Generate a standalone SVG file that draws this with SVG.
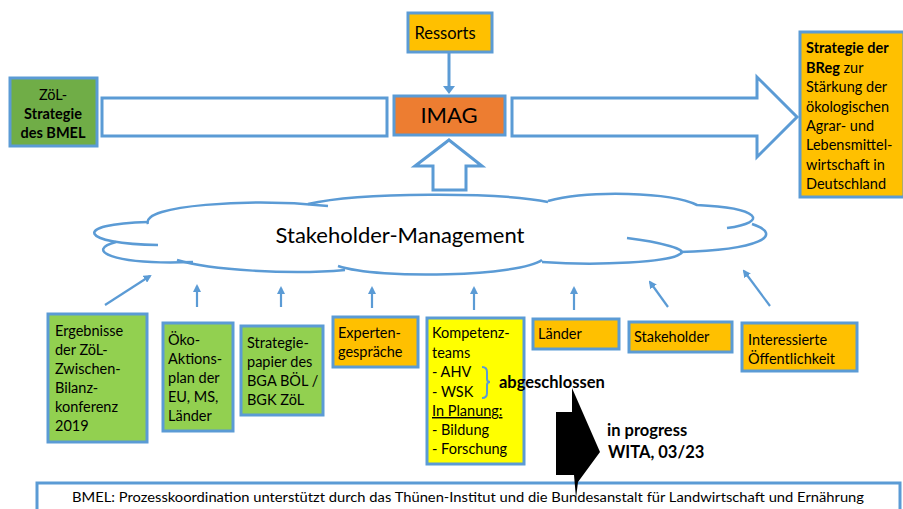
<svg xmlns="http://www.w3.org/2000/svg" width="903" height="509" viewBox="0 0 903 509">
<style>
text{font-family:Lato,"Noto Sans","Liberation Sans",sans-serif;fill:#000}
.bx{stroke:#5B9BD5;stroke-width:3}
.t{font-size:14.5px}
.b{font-weight:bold}
.lb{font-size:16.5px;font-weight:bold}
.ar{stroke:#5B9BD5;stroke-width:2.2;fill:none}
.cl{stroke:#5B9BD5;stroke-width:2.5;fill:none}
</style>
<defs>
<marker id="ah" markerWidth="8" markerHeight="8" refX="6" refY="4" orient="auto" markerUnits="userSpaceOnUse">
<path d="M0,0 L8,4 L0,8 Z" fill="#5B9BD5"/>
</marker>
</defs>
<rect width="903" height="509" fill="#fff"/>

<g id="cloud">
<path d="M148,222 C140,205 250,198 310,204 C360,192 500,192 548,201 C590,190 670,192 697,205 C760,208 770,222 752,224 C785,235 760,250 680,252 C690,262 600,268 542,262 C510,278 380,282 338,267 C290,275 210,270 177,261 C110,264 85,250 115,243 C70,238 80,222 148,222 Z" fill="#fff" stroke="none"/>
<path class="cl" d="M148,224 C140,205 250,198 328,206"/>
<path class="cl" d="M308,204 C360,192 500,192 548,202"/>
<path class="cl" d="M548,201 C590,190 670,192 697,205 C760,208 770,222 727,228"/>
<path class="cl" d="M752,224 C785,235 760,250 680,252"/>
<path class="cl" d="M627,238 C660,242 690,250 680,254 C670,262 600,266 542,262"/>
<path class="cl" d="M542,260 C520,276 380,280 338,266"/>
<path class="cl" d="M345,270 C290,275 210,270 177,260"/>
<path class="cl" d="M193,262 C110,265 85,250 116,242"/>
<path class="cl" d="M148,222 C70,224 80,244 158,245"/>
<text x="400" y="243" font-size="22" text-anchor="middle">Stakeholder-Management</text>
</g>

<g id="connectors">
<path d="M102,98 H387 V136 H102 Z" class="bx" fill="#fff"/>
<path d="M512,98 H757 V77 L797,117 L757,157 V136 H512 Z" class="bx" fill="#fff"/>
<path d="M449,140 L482,166 H466 V190 H433 V166 H415 Z" class="bx" fill="#fff"/>
<line x1="449" y1="52" x2="449" y2="87" stroke="#5B9BD5" stroke-width="3"/>
<path d="M443,86 L449,94 L455,86 Z" fill="#5B9BD5"/>
<line class="ar" x1="105" y1="305" x2="150" y2="276" marker-end="url(#ah)"/>
<line class="ar" x1="197" y1="307" x2="197" y2="286" marker-end="url(#ah)"/>
<line class="ar" x1="281" y1="307" x2="281" y2="288" marker-end="url(#ah)"/>
<line class="ar" x1="372" y1="308" x2="372" y2="288" marker-end="url(#ah)"/>
<line class="ar" x1="474" y1="310" x2="474" y2="288" marker-end="url(#ah)"/>
<line class="ar" x1="574" y1="310" x2="574" y2="288" marker-end="url(#ah)"/>
<line class="ar" x1="668" y1="307" x2="650" y2="282" marker-end="url(#ah)"/>
<line class="ar" x1="770" y1="306" x2="744" y2="271" marker-end="url(#ah)"/>
</g>

<g id="ressorts">
<rect class="bx" x="408" y="13" width="84" height="39" fill="#FFC000"/>
<text x="445" y="39" font-size="16.5" text-anchor="middle">Ressorts</text>
</g>

<g id="imag">
<rect class="bx" x="394" y="96" width="111" height="39" fill="#ED7D31"/>
<text x="449" y="123" font-size="22" text-anchor="middle">IMAG</text>
</g>

<g id="zoel">
<rect class="bx" x="10" y="78" width="87" height="68" fill="#70AD47"/>
<text class="t" x="53" y="100" text-anchor="middle">ZöL-</text>
<text class="t b" x="53" y="119" text-anchor="middle">Strategie</text>
<text class="t b" x="53" y="138" text-anchor="middle">des BMEL</text>
</g>

<g id="breg">
<rect class="bx" x="800" y="32" width="104" height="165" fill="#FFC000"/>
<text class="t" x="806" y="53"><tspan class="b">Strategie der</tspan></text>
<text class="t" x="806" y="73"><tspan class="b">BReg</tspan> zur</text>
<text class="t" x="806" y="92">Stärkung der</text>
<text class="t" x="806" y="112">ökologischen</text>
<text class="t" x="806" y="131">Agrar- und</text>
<text class="t" x="806" y="150">Lebensmittel-</text>
<text class="t" x="806" y="170">wirtschaft in</text>
<text class="t" x="806" y="189">Deutschland</text>
</g>

<g id="ergebnisse">
<rect class="bx" x="48" y="314" width="99" height="128" fill="#92D050"/>
<text class="t" x="55" y="336">Ergebnisse</text>
<text class="t" x="55" y="355">der ZöL-</text>
<text class="t" x="55" y="374">Zwischen-</text>
<text class="t" x="55" y="393">Bilanz-</text>
<text class="t" x="55" y="412">konferenz</text>
<text class="t" x="55" y="431">2019</text>
</g>

<g id="oeko">
<rect class="bx" x="163" y="323" width="70" height="108" fill="#92D050"/>
<text class="t" x="168" y="345">Öko-</text>
<text class="t" x="168" y="364">Aktions-</text>
<text class="t" x="168" y="383">plan der</text>
<text class="t" x="168" y="402">EU, MS,</text>
<text class="t" x="168" y="421">Länder</text>
</g>

<g id="strategiepapier">
<rect class="bx" x="241" y="326" width="82" height="89" fill="#92D050"/>
<text class="t" x="247" y="348">Strategie-</text>
<text class="t" x="247" y="367">papier des</text>
<text class="t" x="247" y="386">BGA BÖL /</text>
<text class="t" x="247" y="405">BGK ZöL</text>
</g>

<g id="experten">
<rect class="bx" x="333" y="317" width="85" height="50" fill="#FFC000"/>
<text class="t" x="338" y="338">Experten-</text>
<text class="t" x="338" y="357">gespräche</text>
</g>

<g id="kompetenz">
<rect class="bx" x="427" y="318" width="97" height="146" fill="#FFFF00"/>
<text class="t" x="432" y="338">Kompetenz-</text>
<text class="t" x="432" y="358">teams</text>
<text class="t" x="432" y="377">- AHV</text>
<text class="t" x="432" y="397">- WSK</text>
<text class="t" x="432" y="416" text-decoration="underline">In Planung:</text>
<text class="t" x="432" y="435">- Bildung</text>
<text class="t" x="432" y="454">- Forschung</text>
<path d="M482,367 Q487,367 487,372 V379 Q487,382 490,382 Q487,382 487,385 V393 Q487,398 482,398" fill="none" stroke="#5B9BD5" stroke-width="2"/>
<text class="lb" x="499" y="388">abgeschlossen</text>
</g>

<g id="laender">
<rect class="bx" x="533" y="319" width="86" height="30" fill="#FFC000"/>
<text class="t" x="538" y="339">Länder</text>
</g>

<g id="stakeholder">
<rect class="bx" x="629" y="322" width="103" height="30" fill="#FFC000"/>
<text class="t" x="634" y="342">Stakeholder</text>
</g>

<g id="oeffentlichkeit">
<rect class="bx" x="742" y="323" width="115" height="48" fill="#FFC000"/>
<text class="t" x="748" y="345">Interessierte</text>
<text class="t" x="748" y="364">Öffentlichkeit</text>
</g>

<g id="bmel">
<rect class="bx" x="37" y="483" width="863" height="40" fill="#fff"/>
<text x="468" y="502" font-size="13.5" text-anchor="middle" textLength="792" lengthAdjust="spacingAndGlyphs">BMEL: Prozesskoordination unterstützt durch das Thünen-Institut und die Bundesanstalt für Landwirtschaft und Ernährung</text>
</g>

<g id="progress">
<path d="M556,412 H572 V388 L600,452 L578,482 L576,498 L574,475 H556 Z" fill="#000"/>
<text class="lb" x="607" y="436">in progress</text>
<text class="lb" x="608" y="458">WITA, 03/23</text>
</g>
</svg>
